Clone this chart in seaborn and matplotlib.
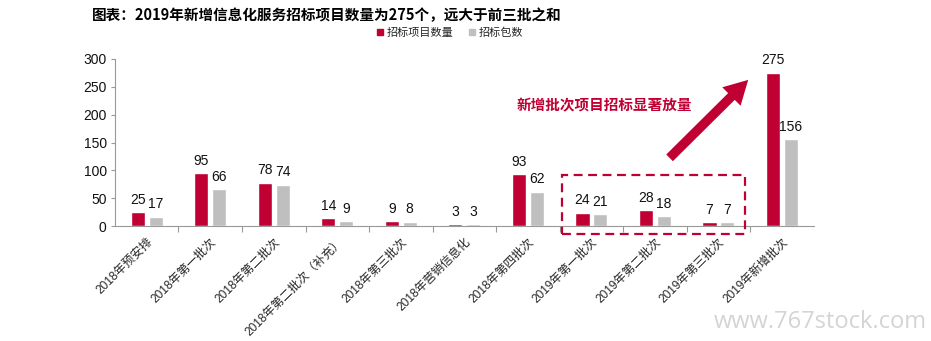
import matplotlib
matplotlib.use("Agg")
import matplotlib.pyplot as plt
from matplotlib.patches import Rectangle
from matplotlib.lines import Line2D
import numpy as np
import pandas as pd
import seaborn as sns

categories = ["2018年预安排", "2018年第一批次", "2018年第二批次", "2018年第二批次（补充）",
              "2018年第三批次", "2018年营销信息化", "2018年第四批次", "2019年第一批次",
              "2019年第二批次", "2019年第三批次", "2019年新增批次"]
project_counts = [25, 95, 78, 14, 9, 3, 93, 24, 28, 7, 275]
package_counts = [17, 66, 74, 9, 8, 3, 62, 21, 18, 7, 156]
series_names = ["招标项目数量", "招标包数"]
yticks = [0, 50, 100, 150, 200, 250, 300]

title = "图表：2019年新增信息化服务招标项目数量为275个，远大于前三批之和"
note = "新增批次项目招标显著放量"
watermark = "www.767stock.com"

RED = "#C00032"
GREY = "#BFBFBF"

sns.set_theme(style="white")
plt.rcParams["font.family"] = ["Liberation Sans", "Noto Sans CJK SC", "DejaVu Sans"]

df = pd.DataFrame({
    "批次": categories * 2,
    "数量": project_counts + package_counts,
    "系列": [series_names[0]] * len(categories) + [series_names[1]] * len(categories),
})

fig = plt.figure(figsize=(9.31, 3.41), dpi=100)
ax = fig.add_axes([0.1235, 0.337, 0.7505, 0.49])

sns.barplot(data=df, x="批次", y="数量", hue="系列", order=categories,
            hue_order=series_names, palette=[RED, GREY], width=0.56, gap=0.21,
            legend=False, ax=ax, saturation=1)

for cont in ax.containers:
    ax.bar_label(cont, fmt="%d", padding=4, fontsize=10, color="#111111",
                 family="Liberation Sans")

ax.set_ylim(0, 300)
ax.set_xlim(-0.5, len(categories) - 0.5)
ax.set_yticks(yticks)
ax.set_yticklabels([str(v) for v in yticks], fontsize=10, color="#111111")
ax.set_xlabel("")
ax.set_ylabel("")

ax.set_xticks(range(len(categories)))
ax.set_xticklabels(categories, rotation=45, ha="right", rotation_mode="anchor",
                   fontsize=8.6, family=["Liberation Sans", "Noto Sans CJK SC"])
ax.tick_params(axis="x", which="major", length=0, pad=7)
ax.set_xticks(np.arange(0.5, len(categories) - 0.5, 1.0), minor=True)
ax.tick_params(axis="x", which="minor", length=4, color="#999999", width=0.8,
               direction="out", bottom=True)
ax.tick_params(axis="y", length=3, color="#999999", width=0.8, direction="out",
               left=True, pad=3)

for side in ("top", "right"):
    ax.spines[side].set_visible(False)
for side in ("left", "bottom"):
    ax.spines[side].set_color("#999999")
    ax.spines[side].set_linewidth(0.8)

# dashed box around the first three 2019 batches
box = Rectangle((6.54, -14), 2.88, 106, fill=False, edgecolor=RED,
                linestyle=(0, (4, 2.5)), linewidth=1.6, clip_on=False, zorder=5)
ax.add_patch(box)

# arrow pointing up to the new batch
ax.annotate("", xy=(9.5, 266), xytext=(8.2, 119),
            arrowprops=dict(arrowstyle="simple,head_length=1.0,head_width=1.1,tail_width=0.4",
                            color=RED, lw=0, mutation_scale=17),
            annotation_clip=False)

ax.text(7.2, 217, note, color=RED, fontsize=10.5, fontweight="bold",
        family="Noto Sans CJK SC", ha="center", va="center")

fig.text(0.099, 0.955, title, fontsize=10.5, fontweight="bold",
         family=["Noto Sans CJK SC"], ha="left", va="center", color="#000000")

handles = [Line2D([0], [0], marker="s", linestyle="", markersize=5,
                  markerfacecolor=c, markeredgecolor=c) for c in (RED, GREY)]
fig.legend(handles, series_names, loc="center", bbox_to_anchor=(0.482, 0.903),
           ncol=2, frameon=False, handletextpad=0.1, columnspacing=1.2,
           handlelength=1.0, prop={"family": "Noto Sans CJK SC", "size": 8})

fig.text(0.995, 0.055, watermark, fontsize=17, color="#D4D4D4", ha="right",
         va="center", family="Open Sans")

fig.savefig("out.png", dpi=100)
